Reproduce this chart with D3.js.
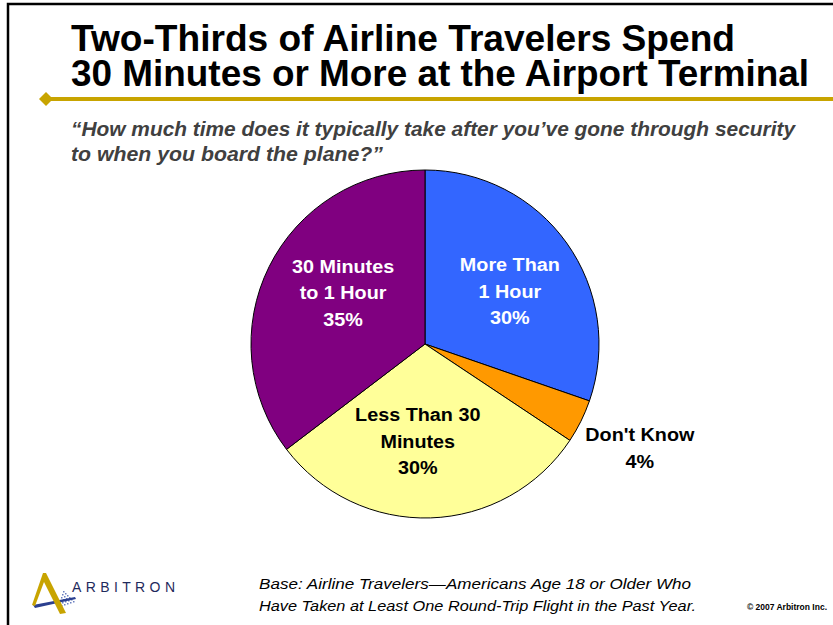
<!DOCTYPE html>
<html>
<head>
<meta charset="utf-8">
<script src="https://cdn.jsdelivr.net/npm/d3@7"></script>
<style>
  html, body { margin: 0; padding: 0; background: #fff; }
  svg { display: block; }
  text { font-family: "Liberation Sans", Arial, Helvetica, sans-serif; }
</style>
</head>
<body>
<svg id="chart" width="833" height="625"></svg>
<script>
// Survey answers, clockwise from 12 o'clock
const categories = ["More Than 1 Hour", "Don't Know", "Less Than 30 Minutes", "30 Minutes to 1 Hour"];
const shares = [30, 4, 30, 35];
const sliceColors = ["#3366FF", "#FF9900", "#FFFF99", "#800080"];
const labelLines = [
  ["More Than", "1 Hour", "30%"],
  ["Don't Know", "4%"],
  ["Less Than 30", "Minutes", "30%"],
  ["30 Minutes", "to 1 Hour", "35%"]
];
const labelColors = ["#fff", "#000", "#000", "#fff"];

const titleLines = ["Two-Thirds of Airline Travelers Spend", "30 Minutes or More at the Airport Terminal"];
const questionLines = ["\u201cHow much time does it typically take after you\u2019ve gone through security", "to when you board the plane?\u201d"];
const baseLines = ["Base:  Airline Travelers\u2014Americans Age 18 or Older Who", "Have Taken at Least One Round-Trip Flight in the Past Year."];

const svg = d3.select("#chart");

// slide frame
svg.append("path")
  .attr("d", "M8,640 L8,4 L850,4")
  .attr("fill", "none").attr("stroke", "#000").attr("stroke-width", 2.5);

// title
const titleWidths = [664, 738];
titleLines.forEach((t, i) => {
  svg.append("text")
    .attr("x", 71).attr("y", 51 + i * 35)
    .attr("font-size", 37).attr("font-weight", "bold")
    .attr("textLength", titleWidths[i]).attr("lengthAdjust", "spacingAndGlyphs")
    .text(t);
});

// gold rule with diamond
svg.append("line")
  .attr("x1", 46).attr("x2", 833).attr("y1", 99).attr("y2", 99)
  .attr("stroke", "#C8A400").attr("stroke-width", 4);
svg.append("path")
  .attr("d", "M46,92 L53,99 L46,106 L39,99 Z")
  .attr("fill", "#C8A400");

// survey question
const qWidths = [724, 312];
questionLines.forEach((t, i) => {
  svg.append("text")
    .attr("x", 71).attr("y", 136 + i * 25)
    .attr("font-size", 19.5).attr("font-weight", "bold").attr("font-style", "italic")
    .attr("fill", "#404040")
    .attr("textLength", qWidths[i]).attr("lengthAdjust", "spacingAndGlyphs")
    .text(t);
});

// pie
const cx = 425, cy = 344, r = 174;
const pie = d3.pie().sort(null).value(d => d)(shares);
const arc = d3.arc().innerRadius(0).outerRadius(r);
const g = svg.append("g").attr("transform", `translate(${cx},${cy})`);
g.selectAll("path.slice").data(pie).join("path")
  .attr("class", "slice")
  .attr("d", arc)
  .attr("fill", (d, i) => sliceColors[i])
  .attr("stroke", "#000").attr("stroke-width", 1);

// slice labels: inside for the large slices, outside for the small one
const labelArcIn = d3.arc().innerRadius(r * 0.5).outerRadius(r * 0.5);
const labelArcOut = d3.arc().innerRadius(r * 1.25).outerRadius(r * 1.25);
const labelOffsets = [[14, -2], [20, 8], [-10, 11], [-4, -12]];
pie.forEach((d, i) => {
  const small = shares[i] < 10;
  const [lx, ly] = (small ? labelArcOut : labelArcIn).centroid(d);
  const [ox, oy] = labelOffsets[i];
  const lines = labelLines[i];
  const lh = 26.5;
  const t = g.append("text")
    .attr("text-anchor", "middle")
    .attr("font-size", 17.5).attr("font-weight", "bold")
    .attr("fill", labelColors[i]);
  lines.forEach((s, k) => {
    const ts = t.append("tspan")
      .attr("x", lx + ox)
      .attr("y", ly + oy + (k - (lines.length - 1) / 2) * lh + 6)
      .text(s);
    // the slide's label face runs a little wider than the fallback font
    const w = ts.node().getComputedTextLength();
    ts.attr("textLength", w * 1.13).attr("lengthAdjust", "spacingAndGlyphs");
  });
});

// footnote
const baseWidths = [432, 437];
baseLines.forEach((t, i) => {
  svg.append("text")
    .attr("x", 259).attr("y", 589 + i * 22)
    .attr("font-size", 15).attr("font-style", "italic")
    .attr("textLength", baseWidths[i]).attr("lengthAdjust", "spacingAndGlyphs")
    .text(t);
});

svg.append("text")
  .attr("x", 827).attr("y", 610).attr("text-anchor", "end")
  .attr("font-size", 8.5).attr("font-weight", "bold")
  .text("\u00a9 2007 Arbitron Inc.");

// Arbitron logo mark
const logo = svg.append("g");
// blue lattice
const grid = logo.append("g").attr("fill", "#6a7fc0");
for (let a = 0; a < 6; a++) {
  for (let b = 0; b < 6 - a; b++) {
    grid.append("rect")
      .attr("x", 58 + b * 3 + a * 1).attr("y", 606 - a * 3 - b * 1)
      .attr("width", 1.5).attr("height", 1.5);
  }
}
logo.append("path")
  .attr("d", "M33,605 L75,597 L76,599 L35,608 Z")
  .attr("fill", "#2b3f8f");
logo.append("path")
  .attr("d", "M43,573 L46,573 L66,613 L60,614 L44,582 L35,606 L32,605 Z")
  .attr("fill", "#C8A400");
logo.append("text")
  .attr("x", 72).attr("y", 592)
  .attr("font-size", 14)
  .attr("textLength", 103).attr("lengthAdjust", "spacing")
  .attr("fill", "#1f2a5c")
  .text("ARBITRON");
</script>
</body>
</html>
